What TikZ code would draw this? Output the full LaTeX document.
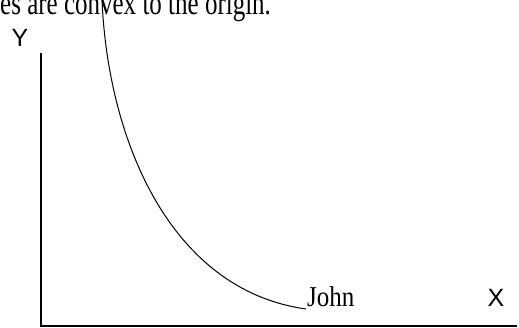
\documentclass[tikz,border=0pt]{standalone}
\usepackage{fontspec}
\setmainfont{Liberation Serif}
\newfontfamily\axisfont{Liberation Sans}
\usetikzlibrary{positioning}

\begin{document}
\begin{tikzpicture}[
  x=1pt, y=-1pt,
  axis/.style={draw=black, line width=1.5pt},
  curve/.style={draw=black, line width=1pt},
  axlabel/.style={font=\axisfont\fontsize{25}{30}\selectfont, inner sep=0pt},
  lbl/.style={font=\fontsize{25}{30}\selectfont, inner sep=0pt}
]
\useasboundingbox (0,0) rectangle (519,328);
\clip (0,0) rectangle (519,328);

\node[lbl, anchor=base west, yscale=1.35] (caption) at (0,15) {es are convex to the origin.};

\coordinate (origin) at (41,326);
\coordinate (ytop) at (41,53);
\coordinate (xend) at (517,326);
\draw[axis] (ytop) -- (origin) -- (xend);

\node[axlabel] (ylab) at (20,38) {Y};
\node[axlabel] (xlab) at (496,298) {X};

\coordinate (ctop) at (102,0);
\coordinate (cend) at (306,309);
\draw[curve] (ctop) .. controls (108,140) and (170,290) .. (cend);
\node[lbl, anchor=base west, yscale=1.15] (john) at (307,307) {John};
\end{tikzpicture}
\end{document}
